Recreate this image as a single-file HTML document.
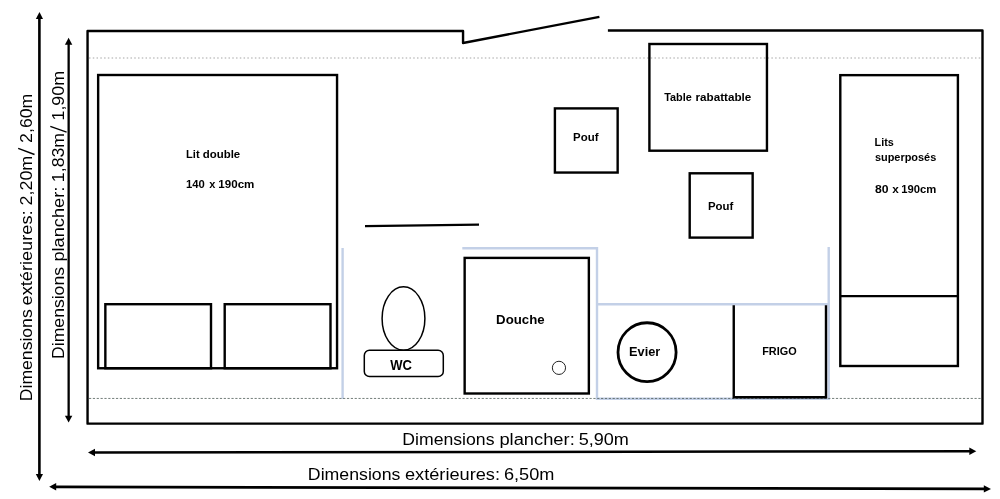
<!DOCTYPE html>
<html>
<head>
<meta charset="utf-8">
<style>
html,body{margin:0;padding:0;background:#fff;}
body{width:1000px;height:499px;overflow:hidden;font-family:"Liberation Sans",sans-serif;}
svg{display:block;}
text{font-family:"Liberation Sans",sans-serif;fill:#000;}
svg{will-change:transform;}
.b{font-weight:bold;}
</style>
</head>
<body>
<svg width="1000" height="499" viewBox="0 0 1000 499">
<rect x="0" y="0" width="1000" height="499" fill="#ffffff"/>

<!-- light blue guide lines -->
<g stroke="#c3d0e7" stroke-width="2.4" fill="none" stroke-linecap="butt">
  <line x1="342.6" y1="248" x2="342.6" y2="399"/>
  <polyline points="462.3,248.25 597,248.25 597,398.8 828.7,398.8 828.7,247"/>
  <line x1="597" y1="304.2" x2="828.7" y2="304.2"/>
</g>

<!-- dotted guide lines -->
<line x1="89" y1="58" x2="981" y2="58" stroke="#a6a6a6" stroke-width="1.05" stroke-dasharray="1.5 2.27"/>
<line x1="89" y1="398.45" x2="981" y2="398.45" stroke="#44534d" stroke-width="0.75" stroke-dasharray="2.2 1.65"/>

<!-- outer wall -->
<polyline points="607.9,30.5 982.5,30.4 982.5,423.65 87.55,423.65 87.55,31.05 463.05,31.05 463.05,43 599.4,16.9" stroke="#000" stroke-width="2.4" fill="none" stroke-linejoin="round" stroke-linecap="butt"/>

<!-- sliding door line -->
<line x1="365" y1="226.2" x2="479" y2="224.7" stroke="#000" stroke-width="2.3" stroke-linecap="butt"/>

<!-- Lit double -->
<g stroke="#000" fill="none" stroke-linejoin="miter">
  <rect x="98.15" y="75" width="238.9" height="293.25" stroke-width="2.4"/>
  <rect x="105.35" y="304.2" width="105.65" height="64.05" stroke-width="2.4"/>
  <rect x="224.7" y="304.2" width="105.8" height="64.05" stroke-width="2.4"/>
</g>

<!-- WC -->
<g stroke="#000" fill="#fff" stroke-width="1.5">
  <ellipse cx="403.5" cy="318.5" rx="21.4" ry="31.7"/>
  <rect x="364.3" y="350.2" width="79" height="26.4" rx="5.2" ry="5.2"/>
</g>

<!-- Douche -->
<rect x="464.65" y="257.9" width="124.2" height="135.6" stroke="#000" stroke-width="2.4" fill="none"/>
<circle cx="558.95" cy="367.85" r="6.6" stroke="#222" stroke-width="1" fill="none"/>

<!-- Poufs / table -->
<g stroke="#000" fill="none" stroke-width="2.4">
  <rect x="554.9" y="108.4" width="62.75" height="64.15"/>
  <rect x="649.4" y="44.0" width="117.55" height="106.7"/>
  <rect x="689.7" y="173.3" width="62.95" height="64.3"/>
</g>

<!-- Evier -->
<ellipse cx="647.05" cy="352.2" rx="29.05" ry="29.45" stroke="#000" stroke-width="2.8" fill="none"/>

<!-- FRIGO -->
<polyline points="733.75,305.2 733.75,397.3 826,397.3 826,305.2" stroke="#000" stroke-width="2.4" fill="none"/>

<!-- Lits superposes -->
<g stroke="#000" fill="none" stroke-width="2.4">
  <rect x="840.3" y="75.15" width="117.6" height="290.85"/>
  <line x1="840.3" y1="296.1" x2="957.9" y2="296.1" stroke-width="2.3"/>
</g>

<!-- arrows -->
<g stroke="#000" fill="#000">
  <line x1="39.4" y1="18" x2="39.4" y2="475" stroke-width="2.6"/>
  <line x1="68.65" y1="44" x2="68.65" y2="416.5" stroke-width="2.3"/>
  <line x1="94" y1="452.5" x2="970" y2="451.25" stroke-width="2.5"/>
  <line x1="55" y1="486.85" x2="984" y2="488.9" stroke-width="2.8"/>
</g>
<g fill="#000" stroke="none">
  <polygon points="39.45,12 35.85,19 43.05,19"/>
  <polygon points="39.4,481 35.8,474 43.0,474"/>
  <polygon points="68.6,37.7 64.9,44.8 72.3,44.8"/>
  <polygon points="68.6,422.5 64.9,415.7 72.3,415.7"/>
  <polygon points="88,452.5 95,448.8 95,456.2"/>
  <polygon points="976.3,451.2 969.3,447.5 969.3,454.9"/>
  <polygon points="49.2,486.8 56.2,483.1 56.2,490.5"/>
  <polygon points="991,488.9 983.8,485.2 983.8,492.6"/>
</g>

<!-- labels -->
<g class="b">
  <text x="186.08" y="157.6" font-size="10.9" textLength="13.55" lengthAdjust="spacingAndGlyphs">Lit</text>
  <text x="202.74" y="157.6" font-size="10.9" textLength="37.43" lengthAdjust="spacingAndGlyphs">double</text>
  <text x="186.07" y="188.3" font-size="10.9" textLength="18.76" lengthAdjust="spacingAndGlyphs">140</text>
  <text x="209.19" y="188.3" font-size="10.9" textLength="6.13" lengthAdjust="spacingAndGlyphs">x</text>
  <text x="218.35" y="188.3" font-size="10.9" textLength="36.09" lengthAdjust="spacingAndGlyphs">190cm</text>
  <text x="874.60" y="145.8" font-size="10.9" textLength="19.27" lengthAdjust="spacingAndGlyphs">Lits</text>
  <text x="874.92" y="161.3" font-size="10.9" textLength="61.36" lengthAdjust="spacingAndGlyphs">superposés</text>
  <text x="874.93" y="192.9" font-size="10.9" textLength="13.58" lengthAdjust="spacingAndGlyphs">80</text>
  <text x="892.38" y="192.9" font-size="10.9" textLength="6.55" lengthAdjust="spacingAndGlyphs">x</text>
  <text x="901.17" y="192.9" font-size="10.9" textLength="35.05" lengthAdjust="spacingAndGlyphs">190cm</text>
  <text x="664.24" y="101.3" font-size="11.3" textLength="27.61" lengthAdjust="spacingAndGlyphs">Table</text>
  <text x="695.49" y="101.3" font-size="11.3" textLength="55.81" lengthAdjust="spacingAndGlyphs">rabattable</text>
  <text x="573.06" y="140.6" font-size="11.4" textLength="25.41" lengthAdjust="spacingAndGlyphs">Pouf</text>
  <text x="707.96" y="209.7" font-size="11.4" textLength="25.41" lengthAdjust="spacingAndGlyphs">Pouf</text>
  <text x="390.30" y="369.5" font-size="13.8" textLength="21.70" lengthAdjust="spacingAndGlyphs">WC</text>
  <text x="496.14" y="324.0" font-size="13.2" textLength="48.48" lengthAdjust="spacingAndGlyphs">Douche</text>
  <text x="629.07" y="356.0" font-size="13.7" textLength="31.24" lengthAdjust="spacingAndGlyphs">Evier</text>
  <text x="762.19" y="354.8" font-size="11.1" textLength="34.46" lengthAdjust="spacingAndGlyphs">FRIGO</text>
</g>

<!-- dimension texts -->
<g>
  <text x="402.29" y="445.1" font-size="16" textLength="92.20" lengthAdjust="spacingAndGlyphs">Dimensions</text>
  <text x="499.41" y="445.1" font-size="16" textLength="75.32" lengthAdjust="spacingAndGlyphs">plancher:</text>
  <text x="578.68" y="445.1" font-size="16" textLength="50.18" lengthAdjust="spacingAndGlyphs">5,90m</text>
  <text x="307.88" y="480.0" font-size="16" textLength="92.51" lengthAdjust="spacingAndGlyphs">Dimensions</text>
  <text x="404.98" y="480.0" font-size="16" textLength="95.05" lengthAdjust="spacingAndGlyphs">extérieures:</text>
  <text x="503.99" y="480.0" font-size="16" textLength="50.37" lengthAdjust="spacingAndGlyphs">6,50m</text>
</g>
<g transform="translate(32.2,401.0) rotate(-90)" font-size="16.8">
  <text x="-0.21" y="0" textLength="91.90" lengthAdjust="spacingAndGlyphs">Dimensions</text>
  <text x="95.58" y="0" textLength="94.95" lengthAdjust="spacingAndGlyphs">extérieures:</text>
  <text x="195.51" y="0" textLength="49.75" lengthAdjust="spacingAndGlyphs">2,20m</text>
  <line x1="246.50" y1="2.3" x2="252.70" y2="-14" stroke="#000" stroke-width="1.35"/>
  <text x="258.11" y="0" textLength="49.22" lengthAdjust="spacingAndGlyphs">2,60m</text>
</g>
<g transform="translate(64.3,359.0) rotate(-90)" font-size="16.8">
  <text x="0.09" y="0" textLength="91.90" lengthAdjust="spacingAndGlyphs">Dimensions</text>
  <text x="97.42" y="0" textLength="74.90" lengthAdjust="spacingAndGlyphs">plancher:</text>
  <text x="176.87" y="0" textLength="49.27" lengthAdjust="spacingAndGlyphs">1,83m</text>
  <line x1="226.90" y1="2.3" x2="232.70" y2="-14" stroke="#000" stroke-width="1.35"/>
  <text x="238.46" y="0" textLength="49.69" lengthAdjust="spacingAndGlyphs">1,90m</text>
</g>
</svg>
</body>
</html>
